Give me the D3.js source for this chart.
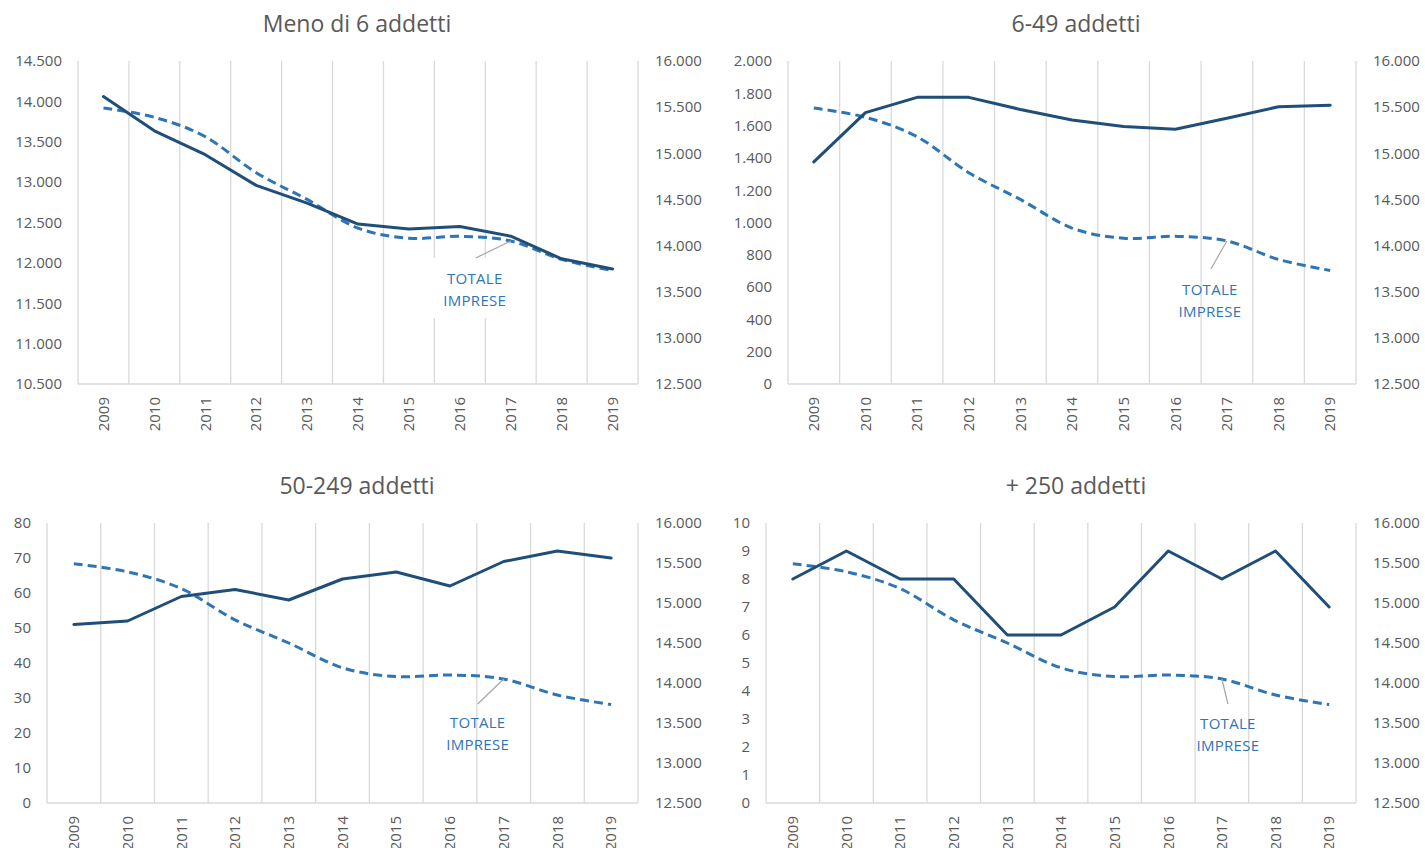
<!DOCTYPE html>
<html>
<head>
<meta charset="utf-8">
<script src="https://cdn.jsdelivr.net/npm/d3@7"></script>
<style>
  body { margin: 0; background: #fff; }
  svg text { font-family: "Open Sans", sans-serif; }
</style>
</head>
<body>
<script>
// data
var years = ["2009","2010","2011","2012","2013","2014","2015","2016","2017","2018","2019"];
var totaleImprese = [15490, 15390, 15180, 14790, 14500, 14190, 14080, 14100, 14050, 13850, 13730];
var meno6 = [14060, 13635, 13340, 12960, 12740, 12480, 12420, 12450, 12330, 12050, 11925];
var da6a49 = [1375, 1680, 1775, 1775, 1700, 1635, 1595, 1577, 1645, 1717, 1726];
var da50a249 = [51, 52, 59, 61, 58, 64, 66, 62, 69, 72, 70];
var oltre250 = [8, 9, 8, 8, 6, 6, 7, 9, 8, 9, 7];
var titles = ["Meno di 6 addetti", "6-49 addetti", "50-249 addetti", "+ 250 addetti"];
var leftDomains = [[10500, 14500], [0, 2000], [0, 80], [0, 10]];
var leftSteps = [500, 200, 10, 1];
var rightDomain = [12500, 16000];
var rightStep = 500;
var labelText = ["TOTALE", "IMPRESE"];

var series = [meno6, da6a49, da50a249, oltre250];

// layout of each panel (plot area + label offset from the 2017 point)
var panels = [
  {left: 78, right: 638, top: 61, bottom: 384, titleX: 357, titleY: 32, lab: [-36, 43], lead: [-35, 17], box: true},
  {left: 788, right: 1356, top: 61, bottom: 384, titleX: 1076, titleY: 32, lab: [-17, 54], lead: [-16, 28], box: false},
  {left: 47, right: 638, top: 523, bottom: 803, titleX: 357, titleY: 494, lab: [-26, 49], lead: [-26, 25], box: false},
  {left: 766, right: 1356, top: 523, bottom: 803, titleX: 1076, titleY: 494, lab: [6, 50], lead: [6, 25], box: false}
];

var it = d3.formatLocale({decimal: ",", thousands: ".", grouping: [3], currency: ["", "€"]});
var fmt = it.format(",d");

var svg = d3.select("body").append("svg")
    .attr("width", 1425)
    .attr("height", 848);

panels.forEach(function(p, k) {
  var g = svg.append("g");
  var vals = series[k];

  var x = d3.scaleBand()
    .domain(years)
    .range([p.left, p.right]);
  var cx = function(d) { return x(d) + x.bandwidth() / 2; };

  var yL = d3.scaleLinear().domain(leftDomains[k]).range([p.bottom, p.top]);
  var yR = d3.scaleLinear().domain(rightDomain).range([p.bottom, p.top]);

  // title
  g.append("text")
    .attr("x", p.titleX)
    .attr("y", p.titleY)
    .attr("text-anchor", "middle")
    .style("font-size", "23px")
    .style("fill", "#595959")
    .text(titles[k]);

  // vertical gridlines between categories
  var edges = years.map(function(d) { return x(d); }).concat([p.right]);
  g.selectAll(".grid")
    .data(edges)
    .enter()
    .append("line")
      .attr("x1", function(d) { return d; })
      .attr("x2", function(d) { return d; })
      .attr("y1", p.top)
      .attr("y2", p.bottom)
      .style("stroke", "#d9d9d9")
      .style("stroke-width", 1.3);

  g.append("line")
    .attr("x1", p.left).attr("x2", p.right)
    .attr("y1", p.bottom).attr("y2", p.bottom)
    .style("stroke", "#d9d9d9")
    .style("stroke-width", 1.3);

  // left axis
  var lt = d3.range(leftDomains[k][0], leftDomains[k][1] + 0.001, leftSteps[k]);
  var axL = g.append("g")
    .attr("transform", "translate(" + p.left + ",0)")
    .call(d3.axisLeft(yL).tickValues(lt).tickFormat(fmt).tickSize(0).tickPadding(16));
  axL.select(".domain").remove();

  // right axis
  var rt = d3.range(rightDomain[0], rightDomain[1] + 0.001, rightStep);
  var axR = g.append("g")
    .attr("transform", "translate(" + p.right + ",0)")
    .call(d3.axisRight(yR).tickValues(rt).tickFormat(fmt).tickSize(0).tickPadding(17));
  axR.select(".domain").remove();

  // x axis, rotated years
  var axX = g.append("g")
    .attr("transform", "translate(0," + p.bottom + ")")
    .call(d3.axisBottom(x).tickSize(0).tickPadding(0));
  axX.select(".domain").remove();
  axX.selectAll("text")
    .attr("transform", "rotate(-90)")
    .attr("x", -13)
    .attr("y", 0)
    .attr("dy", "0.35em")
    .style("text-anchor", "end");

  g.selectAll(".tick text")
    .style("font-size", "15px")
    .style("fill", "#595959")
    .style("font-family", "'Open Sans', sans-serif");

  // dashed total line (right axis)
  var lineR = d3.line()
    .x(function(d, i) { return cx(years[i]); })
    .y(function(d) { return yR(d); })
    .curve(d3.curveCardinal.tension(0));
  g.append("path")
    .datum(totaleImprese)
    .attr("d", lineR)
    .style("fill", "none")
    .style("stroke", "#2e75b6")
    .style("stroke-width", 3)
    .style("stroke-dasharray", "9,5");

  // solid class line (left axis)
  var lineL = d3.line()
    .x(function(d, i) { return cx(years[i]); })
    .y(function(d) { return yL(d); });
  g.append("path")
    .datum(vals)
    .attr("d", lineL)
    .style("fill", "none")
    .style("stroke", "#1f4e79")
    .style("stroke-width", 3)
    .style("stroke-linejoin", "round")
    .style("stroke-linecap", "round");

  // TOTALE IMPRESE label with leader
  var px = cx("2017"), py = yR(totaleImprese[8]);
  var lx = px + p.lab[0], ly = py + p.lab[1];
  if (p.box) {
    g.append("rect")
      .attr("x", lx - 44).attr("y", ly - 26)
      .attr("width", 88).attr("height", 60)
      .style("fill", "#fff");
  }
  g.append("line")
    .attr("x1", px + p.lead[0]).attr("y1", py + p.lead[1])
    .attr("x2", px).attr("y2", py)
    .style("stroke", "#a6a6a6")
    .style("stroke-width", 1.2);
  g.selectAll(".lab")
    .data(labelText)
    .enter()
    .append("text")
      .attr("x", lx)
      .attr("y", function(d, i) { return ly + i * 22; })
      .attr("text-anchor", "middle")
      .style("font-size", "15px")
      .style("letter-spacing", "0.3px")
      .style("fill", "#2e75b6")
      .text(function(d) { return d; });
});
</script>
</body>
</html>
